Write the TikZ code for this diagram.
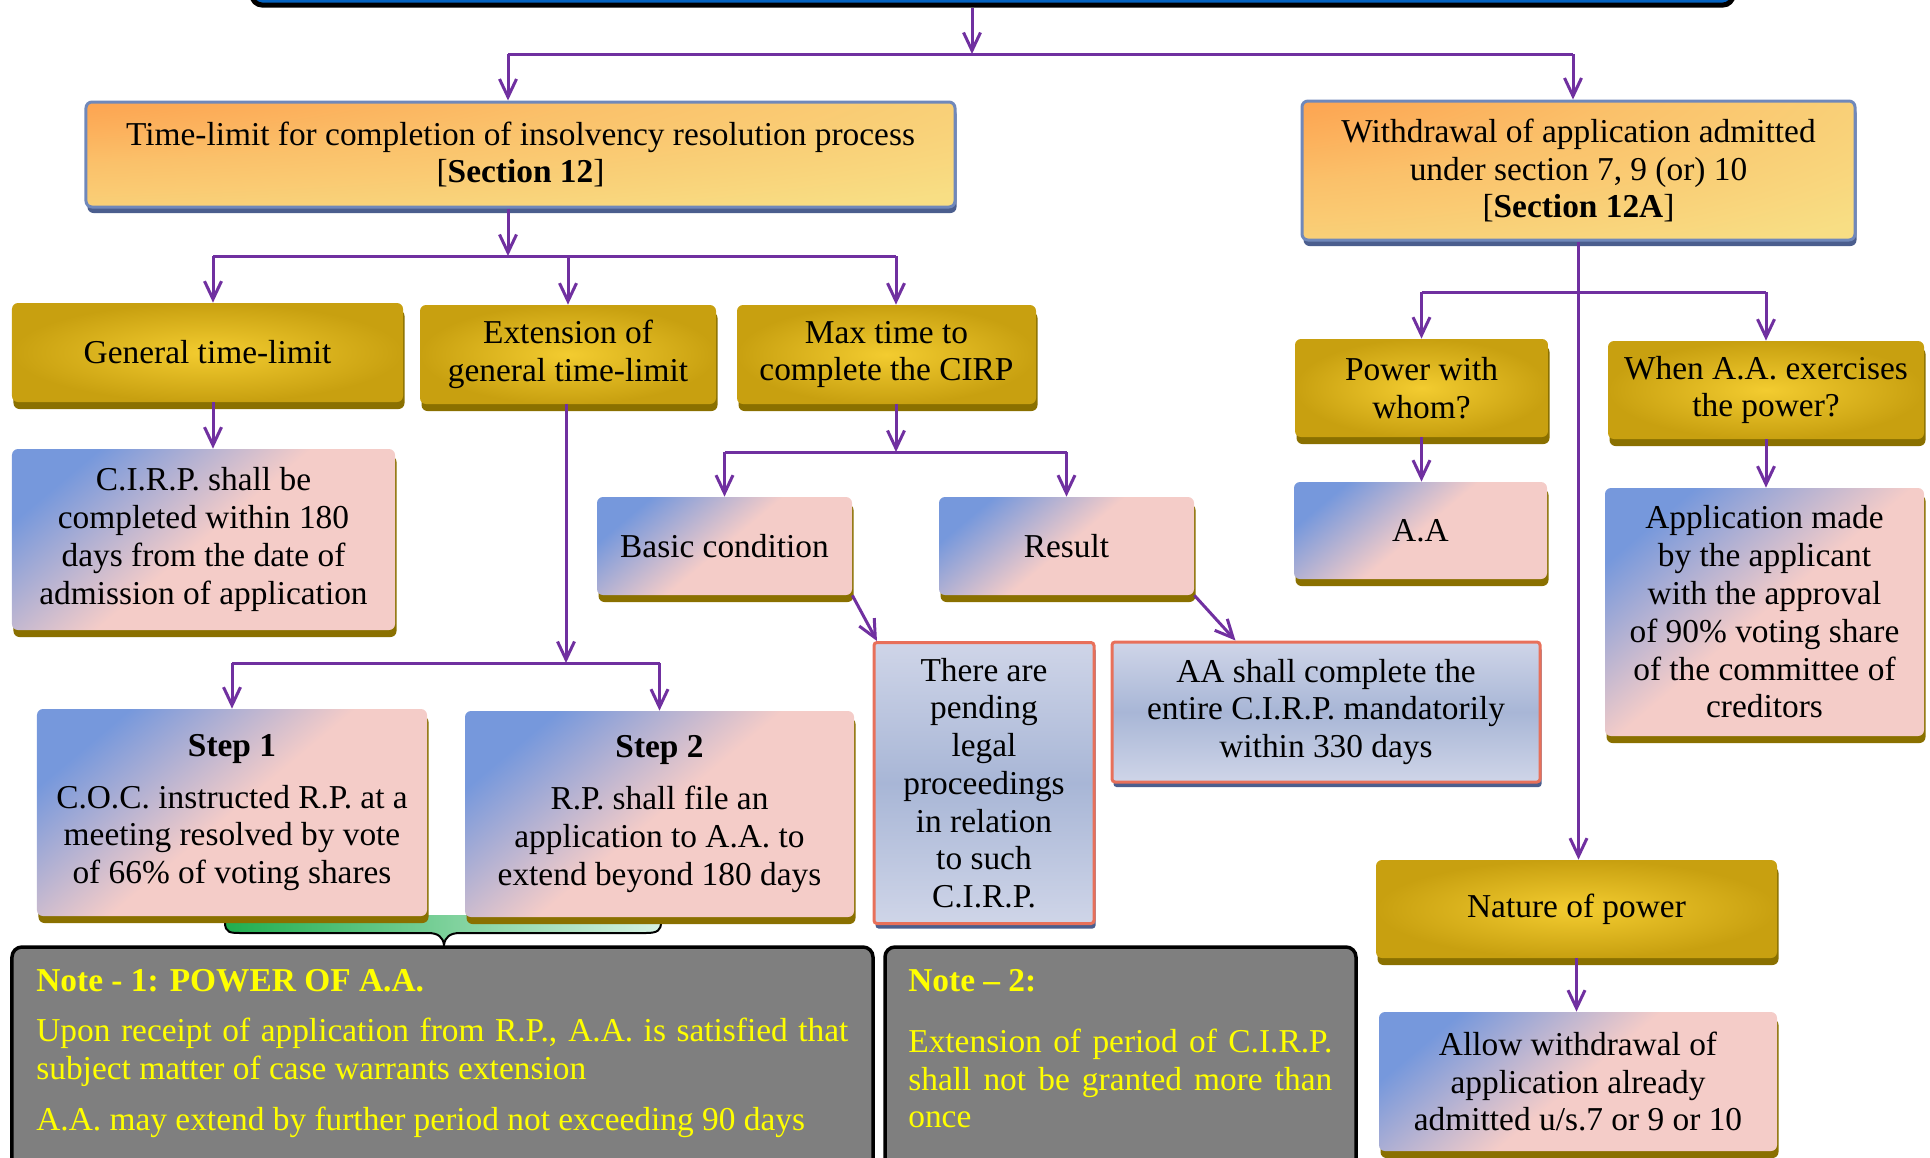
\documentclass[tikz,border=0pt]{standalone}
\usepackage{fontspec}
\setmainfont{Liberation Serif}
\usetikzlibrary{ positioning, % For easy node-relative placements
                 arrows.meta, % For the open arrow tips
                 shadows,     % For the shadows under the boxes
                 calc,        % For points along a side
               }

\definecolor{linkpurple}{HTML}{7030A0}
\definecolor{goldlight}{HTML}{F3CC30}
\definecolor{golddark}{HTML}{C8A010}
\definecolor{goldshadow}{HTML}{8A7000}
\definecolor{pinkish}{HTML}{F4CCC8}
\definecolor{bluish}{HTML}{7698DC}
\definecolor{headorange}{HTML}{FF8A3A}
\definecolor{headyellow}{HTML}{F8DE84}
\definecolor{headborder}{HTML}{7088BA}
\definecolor{headshadow}{HTML}{4B5E8E}
\definecolor{lavlight}{HTML}{CFD5E8}
\definecolor{lavmid}{HTML}{A8B6D6}
\definecolor{redborder}{HTML}{E8705A}
\definecolor{notegrey}{HTML}{7F7F7F}
\definecolor{noteyellow}{HTML}{FFFF00}
\definecolor{barblue}{HTML}{0563C1}
\definecolor{bracegreen}{HTML}{1FAE4E}
\definecolor{bracepale}{HTML}{D6F2E4}

\pgfdeclareradialshading{headglow}{\pgfpoint{-50bp}{50bp}}{%
  color(0bp)=(headorange); color(20bp)=(headorange!80!headyellow);
  color(45bp)=(headorange!35!headyellow); color(75bp)=(headyellow);
  color(200bp)=(headyellow)}

\tikzset{
  plainline/.style={draw=linkpurple, line width=0.6mm},
  arrowline/.style={plainline, -{Straight Barb[length=3.6mm,width=3.4mm]}},
  box/.style={rounded corners=1.2mm, align=center, inner sep=0pt},
  goldbox/.style={box, inner color=goldlight, outer color=golddark,
    drop shadow={shadow xshift=0.3mm, shadow yshift=-1.4mm, fill=goldshadow, opacity=1}},
  pinkbox/.style={box, top color=bluish, bottom color=pinkish, middle color=pinkish,
    shading angle=40,
    drop shadow={shadow xshift=0.3mm, shadow yshift=-1.4mm, fill=goldshadow, opacity=1}},
  headbox/.style={box, draw=headborder, line width=0.6mm, shade, shading=headglow,
    drop shadow={shadow xshift=0.3mm, shadow yshift=-1.2mm, fill=headshadow, opacity=1}},
  redbox/.style={box, rounded corners=0.6mm, draw=redborder, line width=0.6mm,
    top color=lavlight, bottom color=lavlight, middle color=lavmid,
    drop shadow={shadow xshift=0.3mm, shadow yshift=-1mm, fill=headshadow, opacity=1}},
  notebox/.style={draw=black, line width=0.7mm, fill=notegrey, rounded corners=2mm},
  notetext/.style={text=noteyellow, align=justify, inner sep=0pt, anchor=north west},
}

\begin{document}
\begin{tikzpicture}[x=0.2mm, y=-0.2mm, font=\fontsize{19}{21.5}\selectfont]
  \useasboundingbox (0,0) rectangle (1930,1157);
  \clip (0,0) rectangle (1930,1157);

  % brace from the two steps down to note 1
  \fill[left color=bracegreen, right color=bracepale] (225,915) -- (225,922)
    .. controls (225,933) and (230,933) .. (242,933) -- (428,933)
    .. controls (438,933) and (443,937) .. (444,945)
    .. controls (445,937) and (450,933) .. (460,933) -- (646,933)
    .. controls (658,933) and (661,930) .. (661,922) -- (661,915) -- cycle;
  \draw[line width=0.4mm] (225,915) -- (225,922)
    .. controls (225,933) and (230,933) .. (242,933) -- (428,933)
    .. controls (438,933) and (443,937) .. (444,945)
    .. controls (445,937) and (450,933) .. (460,933) -- (646,933)
    .. controls (658,933) and (661,930) .. (661,922) -- (661,915);

  \node[draw=black, line width=1mm, fill=barblue, rounded corners=2mm,
        minimum width=296.2mm, minimum height=10mm] (top_bar) at (992.5,-20) {};

  \node[headbox, minimum width=173.8mm, minimum height=21mm] (time_limit) at (520.5,154.5)
    {Time-limit for completion of insolvency resolution process\\{[}\textbf{Section 12}]};
  \node[headbox, minimum width=110.6mm, minimum height=27.8mm] (withdrawal) at (1578.5,170.5)
    {Withdrawal of application admitted\\under section 7, 9 (or) 10\\{[}\textbf{Section 12A}]};

  \node[goldbox, minimum width=78.2mm, minimum height=19.8mm] (general) at (207.5,352.5) {General time-limit};
  \node[goldbox, minimum width=59.2mm, minimum height=19.8mm] (extension) at (568,354.5) {Extension of\\general time-limit};
  \node[goldbox, minimum width=59.8mm, minimum height=19.8mm] (max_time) at (886.5,354.5) {Max time to\\complete the CIRP};

  \node[pinkbox, minimum width=76.6mm, minimum height=36.2mm] (cirp_days) at (203.5,539.5)
    {C.I.R.P. shall be\\completed within 180\\days from the date of\\admission of application};
  \node[pinkbox, minimum width=78mm, minimum height=41.4mm] (step_one) at (232,812.5)
    {\textbf{Step 1}\\[2.8mm]C.O.C. instructed R.P. at a\\meeting resolved by vote\\of 66\% of voting shares};
  \node[pinkbox, minimum width=77.8mm, minimum height=41.2mm] (step_two) at (659.5,814)
    {\textbf{Step 2}\\[2.8mm]R.P. shall file an\\application to A.A. to\\extend beyond 180 days};

  \node[pinkbox, minimum width=51mm, minimum height=19.6mm] (basic) at (724.5,546) {Basic condition};
  \node[pinkbox, minimum width=51mm, minimum height=19.6mm] (result) at (1066.5,546) {Result};

  \node[redbox, minimum width=44mm, minimum height=56.2mm] (pending) at (984,783)
    {There are\\pending\\legal\\proceedings\\in relation\\to such\\C.I.R.P.};
  \node[redbox, minimum width=85.6mm, minimum height=28mm] (mandatory) at (1326,712)
    {AA shall complete the\\entire C.I.R.P. mandatorily\\within 330 days};

  \node[goldbox, minimum width=50.6mm, minimum height=19.6mm] (whom) at (1421.5,388) {Power with\\whom?};
  \node[goldbox, minimum width=63.2mm, minimum height=19.6mm] (when_power) at (1766,390) {When A.A. exercises\\the power?};
  \node[pinkbox, minimum width=50.6mm, minimum height=19.4mm] (aa) at (1420.5,530.5) {A.A};
  \node[pinkbox, minimum width=63.8mm, minimum height=49.6mm] (approval) at (1764.5,612)
    {Application made\\by the applicant\\with the approval\\of 90\% voting share\\of the committee of\\creditors};
  \node[goldbox, minimum width=80.2mm, minimum height=19.6mm] (nature) at (1576.5,909) {Nature of power};
  \node[pinkbox, minimum width=79.6mm, minimum height=27.8mm] (allow) at (1578,1081.5)
    {Allow withdrawal of\\application already\\admitted u/s.7 or 9 or 10};

  \node[notebox, minimum width=172.2mm, minimum height=46mm] (note_one) at (442.5,1062) {};
  \node[notetext, text width=162.4mm] (note_one_text) at (36,969)
    {\textbf{Note - 1: POWER OF A.A.}\\[2.5mm]Upon receipt of application from R.P., A.A. is satisfied that\linebreak
     subject matter of case warrants extension\\[2.6mm]A.A. may extend by further period not exceeding 90 days};
  \node[notebox, minimum width=94.2mm, minimum height=46mm] (note_two) at (1120.5,1062) {};
  \node[notetext, text width=84.8mm] (note_two_text) at (908,969)
    {\textbf{Note -- 2:}\\[4.6mm]Extension of period of C.I.R.P.\linebreak
     shall not be granted more than\linebreak once};

  \coordinate (top_split) at (972,54);
  \coordinate (time_split) at (508,256);
  \coordinate (ext_split) at (566,663);
  \coordinate (max_split) at (896,452);
  \coordinate (with_split) at (1578.5,292);

  \draw[arrowline] (top_bar.south -| top_split) -- (top_split);
  \draw[plainline] (top_split -| time_split) -- ([xshift=-1.1mm]top_split -| withdrawal.north);
  \draw[arrowline] (top_split -| time_split) -- (time_split |- time_limit.north);
  \draw[arrowline] ([xshift=-1.1mm]top_split -| withdrawal.north) -- ([xshift=-1.1mm]withdrawal.north);

  \draw[arrowline] (time_limit.south -| time_split) -- (time_split);
  \draw[plainline] ([xshift=1.1mm]time_split -| general.north) -- (time_split -| max_split);
  \draw[arrowline] ([xshift=1.1mm]time_split -| general.north) -- ([xshift=1.1mm]general.north);
  \draw[arrowline] (time_split -| extension.north) -- (extension.north);
  \draw[arrowline] (time_split -| max_split) -- (max_split |- max_time.north);

  \draw[arrowline] ([xshift=1.1mm]general.south) -- ([xshift=1.1mm]general.south |- cirp_days.north);

  \draw[arrowline] (extension.south -| ext_split) -- (ext_split);
  \draw[plainline] (ext_split -| step_one.north) -- (ext_split -| step_two.north);
  \draw[arrowline] (ext_split -| step_one.north) -- (step_one.north);
  \draw[arrowline] (ext_split -| step_two.north) -- (step_two.north);

  \draw[arrowline] (max_time.south -| max_split) -- (max_split);
  \draw[plainline] (max_split -| basic.north) -- (max_split -| result.north);
  \draw[arrowline] (max_split -| basic.north) -- (basic.north);
  \draw[arrowline] (max_split -| result.north) -- (result.north);
  \draw[arrowline] (basic.south east) -- ($(pending.north west)!0.02!(pending.north east)$);
  \draw[arrowline] (result.south east) -- ($(mandatory.north west)!0.29!(mandatory.north east)$);

  \draw[arrowline] (withdrawal.south) -- (withdrawal.south |- nature.north);
  \draw[plainline] (with_split -| whom.north) -- (with_split -| when_power.north);
  \draw[arrowline] (with_split -| whom.north) -- (whom.north);
  \draw[arrowline] (with_split -| when_power.north) -- (when_power.north);
  \draw[arrowline] (whom.south) -- (whom.south |- aa.north);
  \draw[arrowline] (when_power.south) -- (when_power.south |- approval.north);
  \draw[arrowline] (nature.south) -- (nature.south |- allow.north);
\end{tikzpicture}
\end{document}
